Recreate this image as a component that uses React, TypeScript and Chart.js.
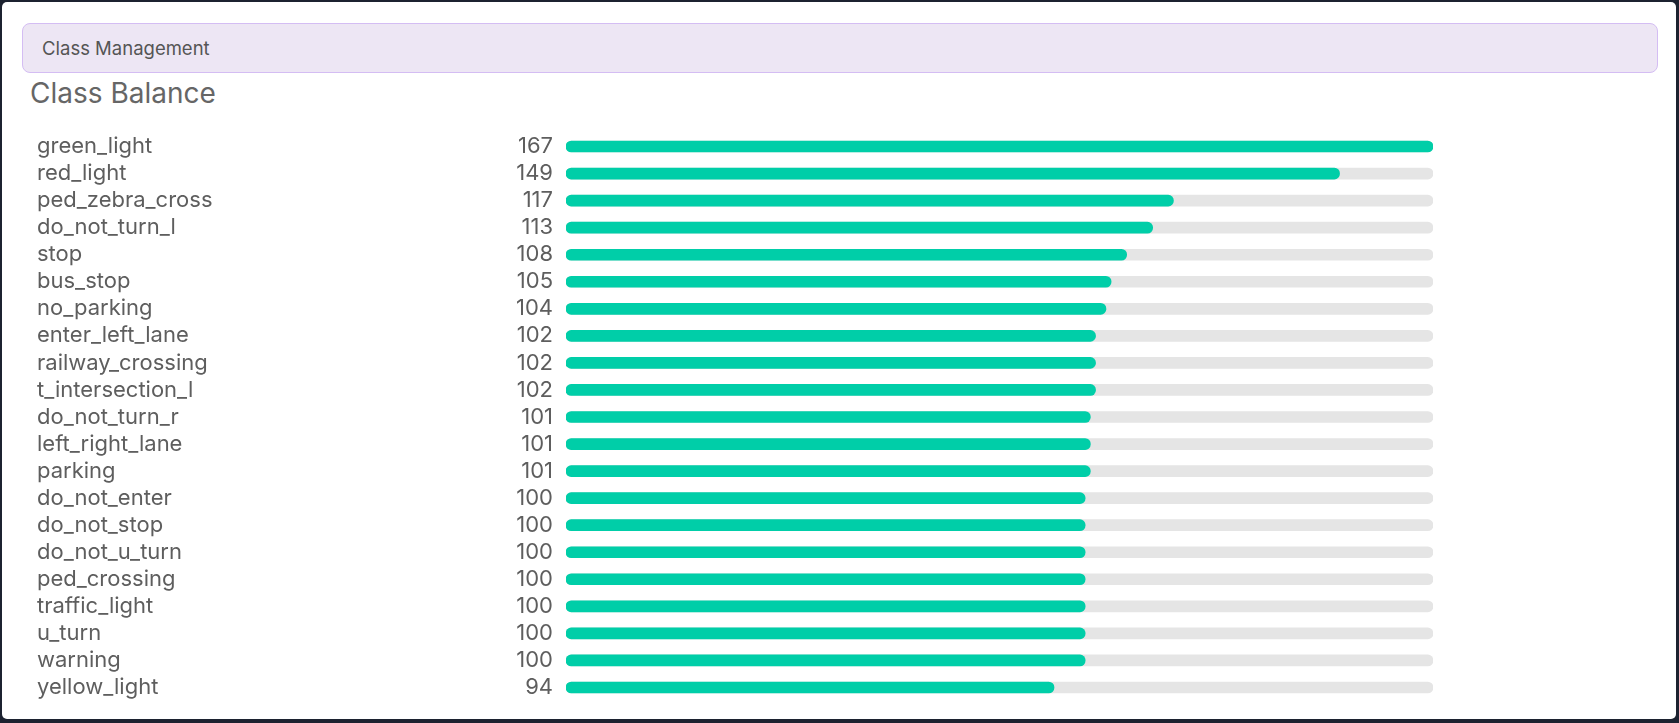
import React, { useEffect, useRef } from 'react';
import { Chart, registerables } from 'chart.js';

Chart.register(...registerables);

const categories = [
  'green_light', 'red_light', 'ped_zebra_cross', 'do_not_turn_l', 'stop', 'bus_stop',
  'no_parking', 'enter_left_lane', 'railway_crossing', 't_intersection_l', 'do_not_turn_r',
  'left_right_lane', 'parking', 'do_not_enter', 'do_not_stop', 'do_not_u_turn',
  'ped_crossing', 'traffic_light', 'u_turn', 'warning', 'yellow_light',
];
const counts = [167, 149, 117, 113, 108, 105, 104, 102, 102, 102, 101, 101, 101, 100, 100, 100, 100, 100, 100, 100, 94];
const maxCount = 167;
const trackValues = categories.map(() => maxCount);
const countLabels = counts.map(String);

const GREEN = '#00cea8';
const TRACK = '#e5e5e5';
const TEXT = '#5e5e5e';

export default function App() {
  const canvasRef = useRef<HTMLCanvasElement | null>(null);

  useEffect(() => {
    const canvas = canvasRef.current;
    if (!canvas) return;
    Chart.defaults.font.family = 'Inter';
    const chart = new Chart(canvas, {
      type: 'bar',
      data: {
        labels: categories,
        datasets: [
          {
            label: 'count',
            data: counts,
            backgroundColor: GREEN,
            borderRadius: 6,
            borderSkipped: false,
            barThickness: 11,
            grouped: false,
            order: 0,
          },
          {
            label: 'track',
            data: trackValues,
            backgroundColor: TRACK,
            borderRadius: 6,
            borderSkipped: false,
            barThickness: 11,
            grouped: false,
            order: 1,
          },
        ],
      },
      options: {
        indexAxis: 'y',
        animation: false,
        responsive: false,
        maintainAspectRatio: false,
        layout: { padding: { left: 37, right: 246, top: 28, bottom: 28 } },
        plugins: { legend: { display: false }, tooltip: { enabled: false } },
        scales: {
          x: { type: 'linear', min: 0, max: maxCount, display: false },
          y: {
            type: 'category',
            position: 'left',
            weight: 2,
            offset: true,
            grid: { display: false, drawTicks: false },
            border: { display: false },
            ticks: { autoSkip: false, crossAlign: 'far', padding: 10, color: TEXT, font: { size: 22, family: 'Inter' } },
          },
          y2: {
            type: 'category',
            labels: countLabels,
            position: 'left',
            weight: 1,
            offset: true,
            grid: { display: false, drawTicks: false },
            border: { display: false },
            ticks: { autoSkip: false, padding: 13, color: TEXT, font: { size: 22, family: 'Inter' } },
            afterFit: (s: any) => {
              const yw = s.chart.scales.y?.width || 200;
              s.width = 566 - 37 - yw;
            },
          },
        },
      } as any,
    });
    return () => chart.destroy();
  }, []);

  return (
    <div style={{ position: 'fixed', inset: 0, background: '#1c2230', fontFamily: 'Inter, sans-serif', overflow: 'hidden' }}>
      <div style={{ position: 'absolute', left: 2, top: 2, width: 1674, height: 717, background: '#ffffff', borderRadius: 5 }} />
      <div
        style={{
          position: 'absolute', left: 22, top: 23, width: 1615, height: 48,
          background: '#ede6f4', border: '1px solid #d4bdf3', borderRadius: 8,
          display: 'flex', alignItems: 'center', paddingLeft: 19, boxSizing: 'content-box',
          fontSize: 18.5, color: '#555555',
        }}
      >
        Class Management
      </div>
      <div style={{ position: 'absolute', left: 30, top: 76, fontSize: 28, color: '#666666', lineHeight: '34px' }}>
        Class Balance
      </div>
      <div style={{ position: 'absolute', left: 0, top: 104.5, width: 1679, height: 624 }}>
        <canvas ref={canvasRef} width={1679} height={624} style={{ width: 1679, height: 624 }} />
      </div>
    </div>
  );
}
